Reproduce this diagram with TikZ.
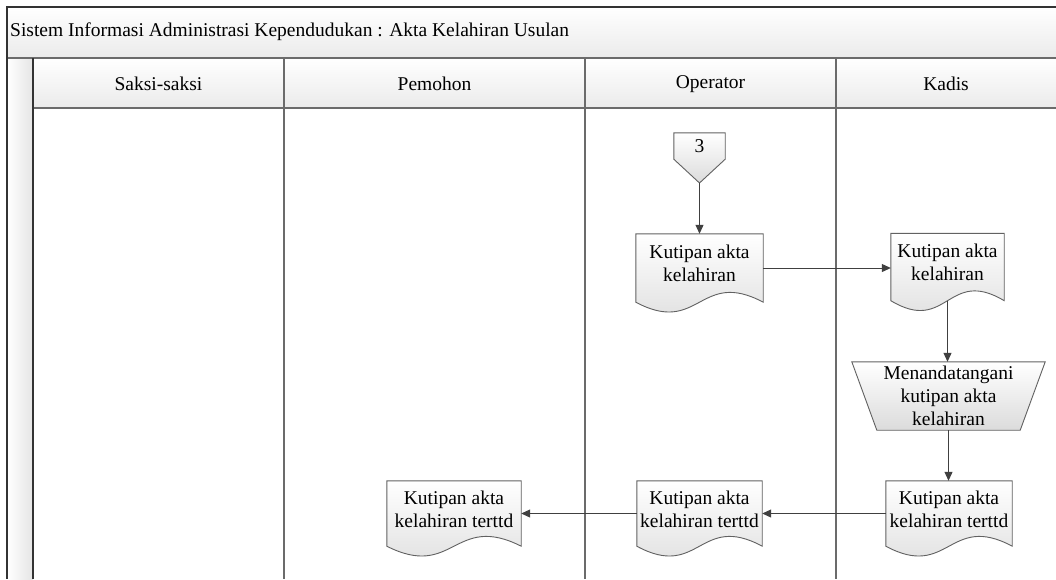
\documentclass[tikz,border=0pt]{standalone}
\usepackage{fontspec}
\setmainfont{Liberation Serif}
\usetikzlibrary{arrows.meta,calc}
\pgfdeclarelayer{bg}
\pgfdeclarelayer{mid}
\pgfsetlayers{bg,mid,main}
\newcommand\docshape[1]{%
  \path[shapeline] (#1.north west) -- (#1.north east) -- (#1.south east)
    .. controls ($(#1.south)+(0,-34)$) and ($(#1.south)+(0,34)$) .. (#1.south west) -- cycle;}
\begin{document}
\begin{tikzpicture}[x=1pt,y=-1pt,
  txt/.style={font=\fontsize{19.5}{23}\selectfont, align=center, inner sep=0pt, text=black},
  docbox/.style={minimum height=#1, inner sep=0pt},
  doclabel/.style={txt, yshift=4.5pt},
  flow/.style={draw=black!75, line width=1pt, -{Triangle[length=9pt,width=8pt]}},
  shapeline/.style={draw=black!62, line width=0.9pt, top color=white, bottom color=black!14},
  lane/.style={draw=black!58, line width=1.1pt},
  frame/.style={draw=black!80, line width=1.6pt},
  band/.style={top color=white, bottom color=black!8}]
\useasboundingbox (0,0) rectangle (1056,579);

\begin{pgfonlayer}{bg}
  \fill[white] (0,0) rectangle (1056,579);
  \path[band] (7,7) rectangle (1056,58);
  \path[band] (33,58) rectangle (1056,108);
  \path[left color=white, right color=black!10] (7,58) rectangle (33,579);
  \draw[lane] (7,58) -- (1056,58);
  \draw[lane] (33,108) -- (1056,108);
  \foreach \x in {284,585,836} \draw[lane] (\x,58) -- (\x,579);
  \draw[frame] (33,58) -- (33,579);
  \draw[frame] (1056,7) -- (7,7) -- (7,579);
\end{pgfonlayer}

% titles
\node[txt, anchor=west] (title) at (10,32) {Sistem Informasi Administrasi Kependudukan : Akta Kelahiran Usulan};
\node[txt] (h1) at (158.5,84) {Saksi-saksi};
\node[txt] (h2) at (434.5,84) {Pemohon};
\node[txt] (h3) at (710.5,84) {Operator};
\node[txt] (h4) at (946,84) {Kadis};

% off-page connector
\node[txt, minimum width=51pt, minimum height=26pt] (c3) at (699.5,146) {3};
\coordinate (c3tip) at (699.5,183);

% documents
\node[docbox=68pt, minimum width=127pt, label={[doclabel]center:Kutipan akta\\kelahiran}] (d1) at (699.5,268) {};
\node[docbox=67pt, minimum width=113pt, label={[doclabel]center:Kutipan akta\\kelahiran}] (d2) at (947.5,267) {};
\node[txt, minimum width=193pt, minimum height=68pt] (m1) at (948.5,396) {Menandatangani\\kutipan akta\\kelahiran};
\node[docbox=65pt, minimum width=126pt, label={[doclabel]center:Kutipan akta\\kelahiran terttd}] (d3) at (949,513.5) {};
\node[docbox=65pt, minimum width=125pt, label={[doclabel]center:Kutipan akta\\kelahiran terttd}] (d4) at (699.5,513.5) {};
\node[docbox=65pt, minimum width=134pt, label={[doclabel]center:Kutipan akta\\kelahiran terttd}] (d5) at (454,513.5) {};

\begin{pgfonlayer}{mid}
  \path[shapeline] (c3.north west) -- (c3.north east) -- (c3.south east) -- (c3tip) -- (c3.south west) -- cycle;
  \docshape{d1}
  \docshape{d2}
  \docshape{d3}
  \docshape{d4}
  \docshape{d5}
  \path[shapeline] (m1.north west) -- (m1.north east) -- ($(m1.south east)+(-25,0)$) -- ($(m1.south west)+(25,0)$) -- cycle;
\end{pgfonlayer}

% connectors
\draw[flow] (c3tip) -- (d1.north);
\draw[flow] (d1.east) -- (d1.east -| d2.west);
\draw[flow] (d2.south) -- (d2.south |- m1.north);
\draw[flow] (m1.south) -- (m1.south |- d3.north);
\draw[flow] (d3.west) -- (d3.west -| d4.east);
\draw[flow] (d4.west) -- (d4.west -| d5.east);
\end{tikzpicture}
\end{document}
